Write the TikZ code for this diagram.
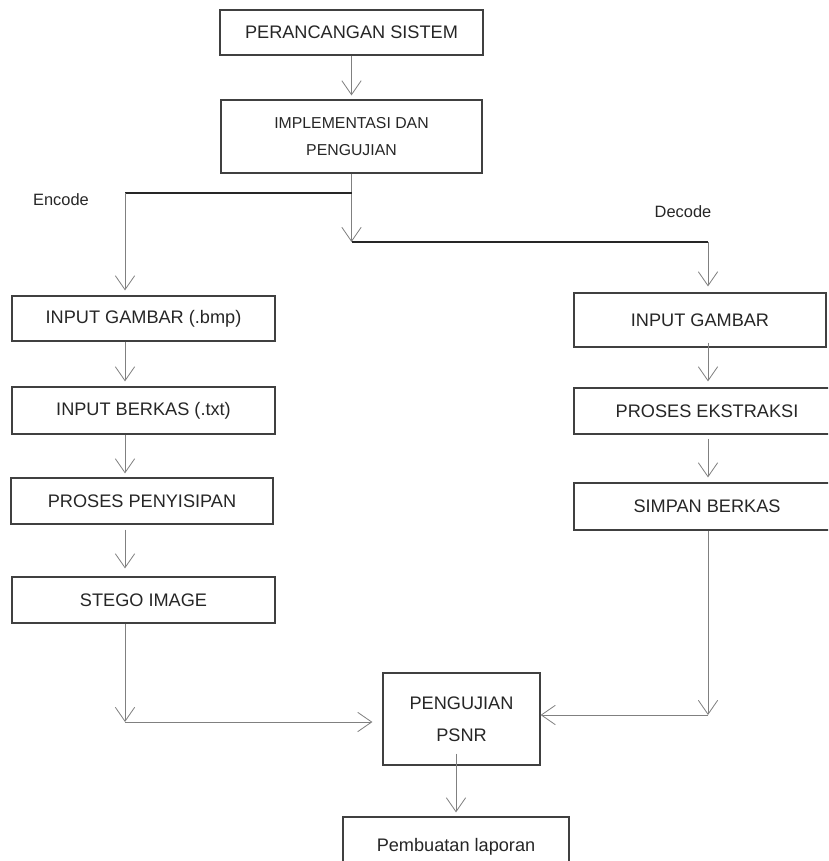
\documentclass[tikz,border=0pt]{standalone}
\usepackage{fontspec}
\setmainfont{Liberation Sans}
\usetikzlibrary{arrows.meta}
\begin{document}
\begin{tikzpicture}[x=0.03cm,y=-0.03cm]
\tikzset{kotak/.style={draw=black!75, line width=1pt, inner sep=0pt, align=center, text=black!85, font=\fontsize{15.5}{27}\selectfont},
panah/.style={draw=black!50, line width=0.7pt, -{Straight Barb[length=0.42cm,width=0.58cm]}},
garis/.style={draw=black!85, line width=1pt},
label/.style={text=black!85, font=\fontsize{14}{17}\selectfont}}
\clip (0,0) rectangle (828,861);
\node[kotak, minimum width=7.89cm, minimum height=1.35cm] (S1) at (351.5,32.5) {PERANCANGAN SISTEM};
\node[kotak, minimum width=7.83cm, minimum height=2.19cm, font=\fontsize{13.5}{23}\selectfont] (S2) at (351.5,136.5) {IMPLEMENTASI DAN\\PENGUJIAN};
\node[kotak, minimum width=7.89cm, minimum height=1.35cm] (E1) at (143.5,318.5) {INPUT GAMBAR (.bmp)};
\node[kotak, minimum width=7.89cm, minimum height=1.41cm] (E2) at (143.5,410.5) {INPUT BERKAS (.txt)};
\node[kotak, minimum width=7.86cm, minimum height=1.38cm] (E3) at (142,501) {PROSES PENYISIPAN};
\node[kotak, minimum width=7.89cm, minimum height=1.38cm] (E4) at (143.5,600) {STEGO IMAGE};
\node[kotak, minimum width=7.56cm, minimum height=1.62cm] (D1) at (700,320) {INPUT GAMBAR};
\node[kotak, minimum width=7.98cm, minimum height=1.38cm] (D2) at (707,411) {PROSES EKSTRAKSI};
\node[kotak, minimum width=7.98cm, minimum height=1.41cm] (D3) at (707,506.5) {SIMPAN BERKAS};
\node[kotak, minimum width=4.71cm, minimum height=2.76cm] (P1) at (461.5,719) {PENGUJIAN\\PSNR};
\node[kotak, minimum width=6.78cm, minimum height=1.8cm] (P2) at (456,847) {Pembuatan laporan};
\node[label] (L1) at (61,200) {Encode};
\node[label] (L2) at (683,212) {Decode};
\coordinate (C1) at (351.5,242);
\coordinate (C2) at (125,193);
\coordinate (C4) at (708,242);
\coordinate (C5) at (125,722);
\coordinate (C6) at (708,715);
\draw[panah, shorten >=0.12cm] (S1.south) -- (S2.north);
\draw[panah] (S2.south) -- (C1);
\draw[garis] (S2.south |- C2) -- (C2);
\draw[panah, shorten >=0.15cm] (C2) -- (E1.north -| C2);
\draw[garis] (C1) -- (C4);
\draw[panah, shorten >=0.18cm] (C4) -- (D1.north -| C4);
\draw[panah, shorten >=0.15cm] (E1.south -| C2) -- (E2.north -| C2);
\draw[panah, shorten >=0.12cm] (E2.south -| C2) -- (E3.north -| C2);
\draw[panah, shorten <=0.15cm, shorten >=0.24cm] (E3.south -| C2) -- (E4.north -| C2);
\draw[panah] (E4.south -| C2) -- (C5);
\draw[panah, shorten >=0.3cm] (C5) -- (P1.west |- C5);
\draw[panah, shorten <=-0.15cm, shorten >=0.18cm] (D1.south -| C4) -- (D2.north -| C4);
\draw[panah, shorten <=0.12cm, shorten >=0.15cm] (D2.south -| C4) -- (D3.north -| C4);
\draw[panah] (D3.south -| C4) -- (C6);
\draw[panah] (C6) -- (P1.east |- C6);
\draw[panah, shorten <=-0.36cm, shorten >=0.12cm] (P1.south -| P2.north) -- (P2.north);
\end{tikzpicture}
\end{document}
